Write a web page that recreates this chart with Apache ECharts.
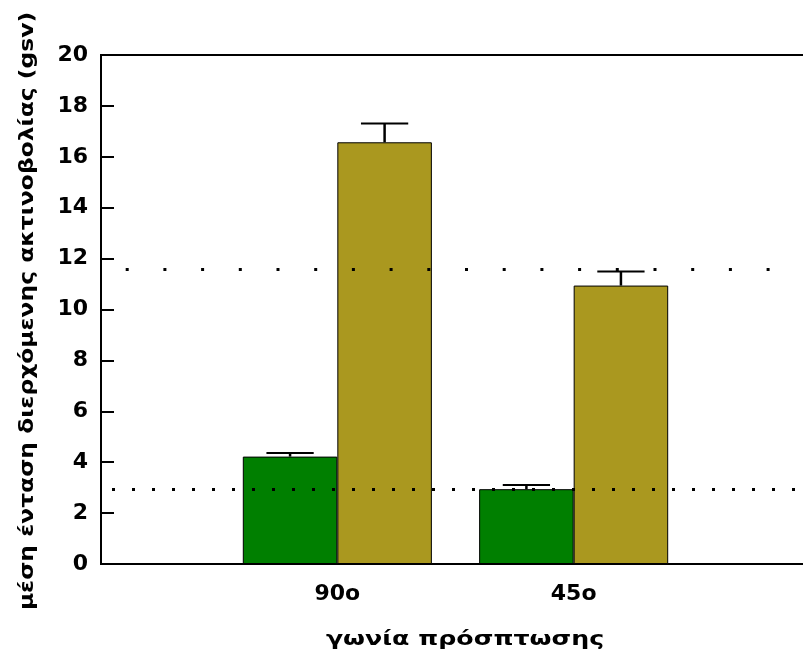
<!DOCTYPE html>
<html>
<head>
<meta charset="utf-8">
<script src="https://cdn.jsdelivr.net/npm/echarts@6/dist/echarts.min.js"></script>
<style>
  html, body { margin: 0; padding: 0; background: #fff; overflow: hidden; }
  /* the plot frame runs past the right edge of the window */
  #chart { width: 813px; height: 655px; }
</style>
</head>
<body>
<div id="chart"></div>
<script>
// Angles of incidence (empty slots pad the axis on both sides)
const categories = ['', '90o', '45o', ''];
// Mean transmitted intensity (gsv) for the two samples
const greenValues = [null, 4.22, 2.94, null];
const oliveValues = [null, 16.57, 10.94, null];
// Upper ends of the error bars
const greenHigh = [null, 4.36, 3.10, null];
const oliveHigh = [null, 17.31, 11.49, null];
// Horizontal reference levels
const refUpper = 11.6;
const refLower = 2.94;
const yTicks = { min: 0, max: 20, interval: 2 };

const FONT = 'DejaVu Sans';
const chart = echarts.init(document.getElementById('chart'), null, { renderer: 'canvas' });

function errorRenderer(highs, values, side) {
  return function (params, api) {
    const i = params.dataIndex;
    if (values[i] == null) return null;
    const band = api.size([1, 0])[0];
    const off = side * band * 0.2;
    const base = api.coord([i, values[i]]);
    const top = api.coord([i, highs[i]]);
    const x = base[0] + off;
    const half = band * 0.1;
    return {
      type: 'group',
      children: [
        { type: 'line', shape: { x1: x, y1: base[1], x2: x, y2: top[1] },
          style: { stroke: '#000', lineWidth: 2.5 } },
        { type: 'line', shape: { x1: x - half, y1: top[1], x2: x + half, y2: top[1] },
          style: { stroke: '#000', lineWidth: 2 } }
      ]
    };
  };
}

const option = {
  animation: false,
  backgroundColor: '#fff',
  grid: {
    left: 101, top: 55, right: 0, bottom: 91,
    show: true, borderColor: '#000', borderWidth: 2, backgroundColor: 'transparent'
  },
  xAxis: {
    type: 'category',
    data: categories,
    boundaryGap: false,
    axisLine: { show: true, lineStyle: { color: '#000', width: 2 } },
    axisTick: { show: false },
    axisLabel: { color: '#000', fontFamily: FONT, fontWeight: 'bold', fontSize: 22, margin: 19 },
    splitLine: { show: false }
  },
  yAxis: {
    type: 'value',
    min: yTicks.min, max: yTicks.max, interval: yTicks.interval,
    axisLine: { show: true, lineStyle: { color: '#000', width: 2 } },
    axisTick: { show: true, inside: true, length: 13, lineStyle: { color: '#000', width: 2 } },
    axisLabel: { color: '#000', fontFamily: FONT, fontWeight: 'bold', fontSize: 22, margin: 13 },
    splitLine: { show: false }
  },
  series: [
    {
      type: 'bar', data: greenValues, barWidth: '40%', barGap: '0%',
      itemStyle: { color: '#007f00', borderColor: '#000', borderWidth: 1 }
    },
    {
      type: 'bar', data: oliveValues, barWidth: '40%', barGap: '0%',
      itemStyle: { color: '#aa981f', borderColor: '#000', borderWidth: 1 }
    },
    {
      type: 'custom', z: 5, data: greenHigh.map((v, i) => [i, v]),
      renderItem: errorRenderer(greenHigh, greenValues, -1), silent: true
    },
    {
      type: 'custom', z: 5, data: oliveHigh.map((v, i) => [i, v]),
      renderItem: errorRenderer(oliveHigh, oliveValues, 1), silent: true,
      markLine: {
        silent: true, symbol: 'none', label: { show: false }, z: 10,
        data: [
          { yAxis: refUpper, lineStyle: { color: '#000', width: 3, type: [3, 34.7], dashOffset: 13 } },
          { yAxis: refLower, lineStyle: { color: '#000', width: 3, type: [3, 17], dashOffset: 9 } }
        ]
      }
    }
  ],
  graphic: [
    {
      type: 'text', x: 28, y: 311, rotation: Math.PI / 2, scaleX: 1.17,
      style: {
        text: 'μέση ένταση διερχόμενης ακτινοβολίας (gsv)',
        font: 'bold 20px "' + FONT + '"', fill: '#000',
        textAlign: 'center', textVerticalAlign: 'middle'
      }
    },
    {
      type: 'text', x: 465, y: 640, scaleX: 1.33,
      style: {
        text: 'γωνία πρόσπτωσης',
        font: 'bold 19px "' + FONT + '"', fill: '#000',
        textAlign: 'center', textVerticalAlign: 'middle'
      }
    }
  ]
};

chart.setOption(option);
</script>
</body>
</html>
